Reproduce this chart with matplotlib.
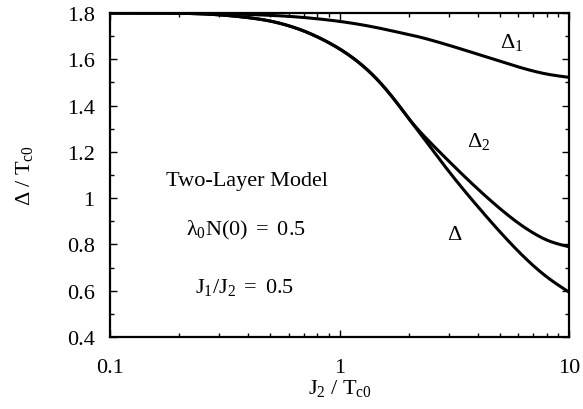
"""Gap ratios versus interlayer coupling in the two-layer model."""

import numpy as np
import matplotlib

matplotlib.use("Agg")
import matplotlib.pyplot as plt
from matplotlib.ticker import FixedLocator, FuncFormatter, LogLocator, MultipleLocator

plt.rcParams["font.family"] = ["Liberation Serif", "DejaVu Serif"]
plt.rcParams["mathtext.fontset"] = "custom"
plt.rcParams["mathtext.rm"] = "Liberation Serif"
plt.rcParams["mathtext.it"] = "Liberation Serif:italic"

# J2 / Tc0 sample points (log axis)
j2_layer1 = [0.1, 0.2, 0.3, 0.42, 0.59, 0.82, 1.15, 1.5, 1.84, 2.09, 2.94, 4.09, 5.7, 8.02, 10.0]
delta1 = [1.800, 1.800, 1.798, 1.793, 1.786, 1.774, 1.755, 1.734, 1.715, 1.703, 1.663, 1.619, 1.574, 1.536, 1.522]

j2_layer2 = [0.1, 0.2, 0.3, 0.4, 0.5, 0.6, 0.7, 0.8, 1.0, 1.2, 1.5, 1.8, 2.0,
             2.5, 3.0, 4.0, 5.0, 6.0, 7.0, 8.0, 10.0]
delta2 = [1.800, 1.799, 1.792, 1.780, 1.765, 1.745, 1.722, 1.697, 1.645, 1.590, 1.500, 1.405, 1.345,
          1.238, 1.159, 1.040, 0.955, 0.893, 0.849, 0.819, 0.790]

j2_total = [0.1, 0.2, 0.3, 0.4, 0.5, 0.6, 0.7, 0.8, 1.0, 1.2, 1.5, 1.8, 2.0,
            2.5, 2.94, 4.09, 5.7, 8.02, 10.0]
delta_total = [1.800, 1.799, 1.792, 1.780, 1.765, 1.745, 1.722, 1.697, 1.645, 1.590, 1.500, 1.405, 1.345,
               1.218, 1.126, 0.953, 0.794, 0.659, 0.594]

y_ticks = [0.4, 0.6, 0.8, 1.0, 1.2, 1.4, 1.6, 1.8]
x_ticks = [0.1, 1, 10]


def spline(xs, ys, n=400):
    """Natural cubic spline through the points, taken in log10(x)."""
    lx = np.log10(xs)
    ys = np.asarray(ys, dtype=float)
    k = len(lx)
    h = np.diff(lx)
    A = np.zeros((k, k))
    b = np.zeros(k)
    A[0, 0] = A[-1, -1] = 1.0
    for i in range(1, k - 1):
        A[i, i - 1] = h[i - 1]
        A[i, i] = 2 * (h[i - 1] + h[i])
        A[i, i + 1] = h[i]
        b[i] = 6 * ((ys[i + 1] - ys[i]) / h[i] - (ys[i] - ys[i - 1]) / h[i - 1])
    M = np.linalg.solve(A, b)
    grid = np.linspace(lx[0], lx[-1], n)
    idx = np.clip(np.searchsorted(lx, grid) - 1, 0, k - 2)
    x0, x1 = lx[idx], lx[idx + 1]
    hh = x1 - x0
    a = (x1 - grid) / hh
    c = (grid - x0) / hh
    out = (a * ys[idx] + c * ys[idx + 1]
           + ((a**3 - a) * M[idx] + (c**3 - c) * M[idx + 1]) * hh**2 / 6)
    return 10**grid, np.minimum(out, 1.8)


fig = plt.figure(figsize=(5.83, 4.10), dpi=100)
ax = fig.add_axes([110 / 583, 1 - 338 / 410, 459 / 583, 324 / 410])

for xs, ys in [(j2_layer1, delta1), (j2_layer2, delta2), (j2_total, delta_total)]:
    sx, sy = spline(xs, ys)
    ax.plot(sx, sy, color="black", lw=2.2, solid_capstyle="butt")

ax.set_xscale("log")
ax.set_xlim(0.1, 10)
ax.set_ylim(0.4, 1.8)
ax.xaxis.set_major_locator(FixedLocator(x_ticks))
ax.xaxis.set_minor_locator(LogLocator(base=10, subs=np.arange(2, 10)))
ax.xaxis.set_major_formatter(FuncFormatter(lambda v, _: f"{v:g}"))
ax.xaxis.set_minor_formatter(FuncFormatter(lambda v, _: ""))
ax.yaxis.set_major_locator(FixedLocator(y_ticks))
ax.yaxis.set_minor_locator(MultipleLocator(0.1))
ax.yaxis.set_major_formatter(FuncFormatter(lambda v, _: f"{v:g}"))

ax.tick_params(which="both", direction="in", top=True, right=True, labelsize=16, width=1, colors="black")
ax.tick_params(which="major", length=5)
ax.tick_params(axis="y", which="major", pad=11)
ax.tick_params(axis="x", which="major", pad=15)
ax.tick_params(which="minor", length=3)
for sp in ax.spines.values():
    sp.set_linewidth(1.6)

ax.set_xlabel(r"$\mathregular{J_2\ /\ T_{c0}}$", fontsize=16, labelpad=0)
ax.set_ylabel(r"$\mathregular{\Delta\ /\ T_{c0}}$", fontsize=16, labelpad=23)

ax.text(5.0, 1.652, r"$\mathregular{\Delta_1}$", fontsize=16, ha="left", va="baseline")
ax.text(3.6, 1.225, r"$\mathregular{\Delta_2}$", fontsize=16, ha="left", va="baseline")
ax.text(2.94, 0.823, r"$\mathregular{\Delta}$", fontsize=16, ha="left", va="baseline")

ax.text(0.395, 1.057, "Two-Layer Model", fontsize=16, ha="center", va="baseline")
ax.text(0.39, 0.845, r"$\mathregular{\lambda_0 N(0)\ =\ 0.5}$", fontsize=16, ha="center", va="baseline")
ax.text(0.385, 0.594, r"$\mathregular{J_1 /J_2\ =\ 0.5}$", fontsize=16, ha="center", va="baseline")

fig.savefig("out.png", dpi=100)
